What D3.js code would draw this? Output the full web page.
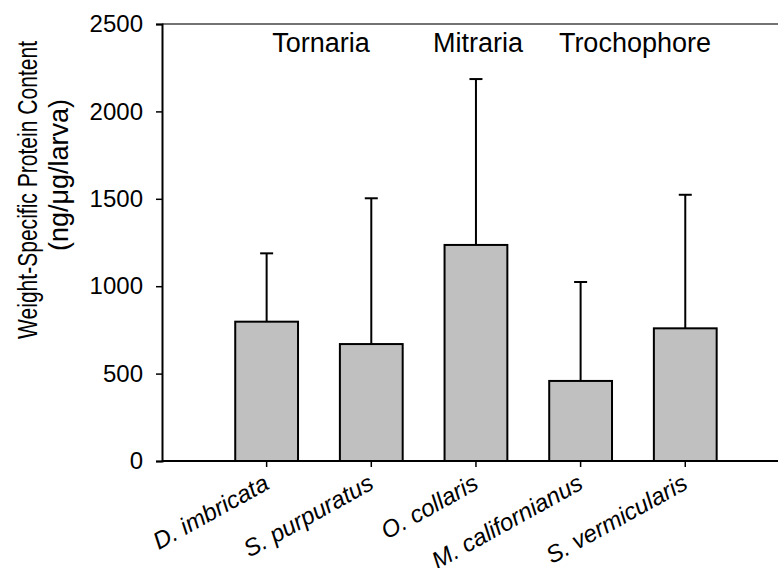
<!DOCTYPE html>
<html>
<head>
<meta charset="utf-8">
<script src="https://cdn.jsdelivr.net/npm/d3@7"></script>
<style>
  html, body { margin: 0; padding: 0; background: #fff; }
  svg text { font-family: "Liberation Sans", Arial, Helvetica, sans-serif; fill: #000; }
</style>
</head>
<body>
<svg id="chart" width="781" height="568"></svg>
<script>
// Larval species (x categories)
const species = ["D. imbricata", "S. purpuratus", "O. collaris", "M. californianus", "S. vermicularis"];
// Mean weight-specific protein content (ng/µg/larva)
const meanProtein = [797, 669, 1236, 458, 759];
// Standard deviation (upper error bar only)
const sdProtein = [391, 834, 949, 566, 764];
// Larval types, each spanning a run of species
const larvalTypes = ["Tornaria", "Mitraria", "Trochophore"];
const typeFirst = [0, 2, 3];
const typeLast = [1, 2, 4];
// Y axis ticks
const yTicks = [0, 500, 1000, 1500, 2000, 2500];

const svg = d3.select("#chart");
const plotLeft = 162, plotRight = 778, plotTop = 24, plotBottom = 461;

const y = d3.scaleLinear().domain([0, 2500]).range([plotBottom, plotTop]);
const x = d3.scaleBand()
  .domain(species)
  .range([214.3, 737.6])
  .paddingInner(0.4)
  .paddingOuter(0.2);

// Top frame line
svg.append("line")
  .attr("x1", plotLeft).attr("x2", plotRight)
  .attr("y1", plotTop).attr("y2", plotTop)
  .attr("stroke", "#444").attr("stroke-width", 1.5);

// Error bars (upper only)
const err = svg.append("g").attr("stroke", "#000").attr("stroke-width", 2);
species.forEach((s, i) => {
  const cx = x(s) + x.bandwidth() / 2;
  const yTop = y(meanProtein[i] + sdProtein[i]);
  err.append("line")
    .attr("x1", cx).attr("x2", cx)
    .attr("y1", y(meanProtein[i])).attr("y2", yTop);
  err.append("line")
    .attr("x1", cx - 6.5).attr("x2", cx + 6.5)
    .attr("y1", yTop).attr("y2", yTop);
});

// Bars
svg.append("g").selectAll("rect")
  .data(species)
  .join("rect")
  .attr("x", d => x(d))
  .attr("width", x.bandwidth())
  .attr("y", (d, i) => y(meanProtein[i]))
  .attr("height", (d, i) => plotBottom - y(meanProtein[i]))
  .attr("fill", "#c0c0c0")
  .attr("stroke", "#000")
  .attr("stroke-width", 2);

// Y axis
const yAxis = svg.append("g")
  .attr("transform", `translate(${plotLeft},0)`)
  .call(d3.axisLeft(y).tickValues(yTicks).tickSize(6).tickPadding(13).tickFormat(d3.format("d")));
yAxis.select(".domain").attr("stroke", "#000").attr("stroke-width", 2);
yAxis.selectAll(".tick line").attr("stroke", "#000").attr("stroke-width", 1.5);
yAxis.selectAll(".tick text").attr("font-size", 24).attr("font-family", null);

// X axis
const xAxis = svg.append("g")
  .attr("transform", `translate(0,${plotBottom})`)
  .call(d3.axisBottom(x).tickSize(6).tickSizeOuter(0));
xAxis.select(".domain").attr("d", `M${plotLeft},0H${plotRight}`)
  .attr("stroke", "#000").attr("stroke-width", 2);
xAxis.selectAll(".tick line").attr("stroke", "#000").attr("stroke-width", 1.5);
xAxis.selectAll(".tick text")
  .attr("font-size", 24)
  .attr("font-family", null)
  .attr("font-style", "italic")
  .attr("text-anchor", "end")
  .attr("x", 0).attr("y", 0).attr("dy", 0)
  .attr("transform", "translate(4,27) rotate(-29)");

// Larval type labels
larvalTypes.forEach((t, i) => {
  const cx = (x(species[typeFirst[i]]) + x(species[typeLast[i]])) / 2 + x.bandwidth() / 2;
  svg.append("text")
    .attr("x", cx + 2)
    .attr("y", plotTop + 28)
    .attr("text-anchor", "middle")
    .attr("font-size", 27)
    .text(t);
});

// Y axis title (two lines); the first line is condensed along its length
const yTitle = svg.append("g");
yTitle.append("text")
  .attr("transform", "translate(37,190) rotate(-90) scale(0.78,1)")
  .attr("text-anchor", "middle")
  .attr("font-size", 27)
  .text("Weight-Specific Protein Content");
yTitle.append("text")
  .attr("transform", "translate(68,175) rotate(-90)")
  .attr("text-anchor", "middle")
  .attr("font-size", 27)
  .text("(ng/\u03bcg/larva)");
</script>
</body>
</html>
